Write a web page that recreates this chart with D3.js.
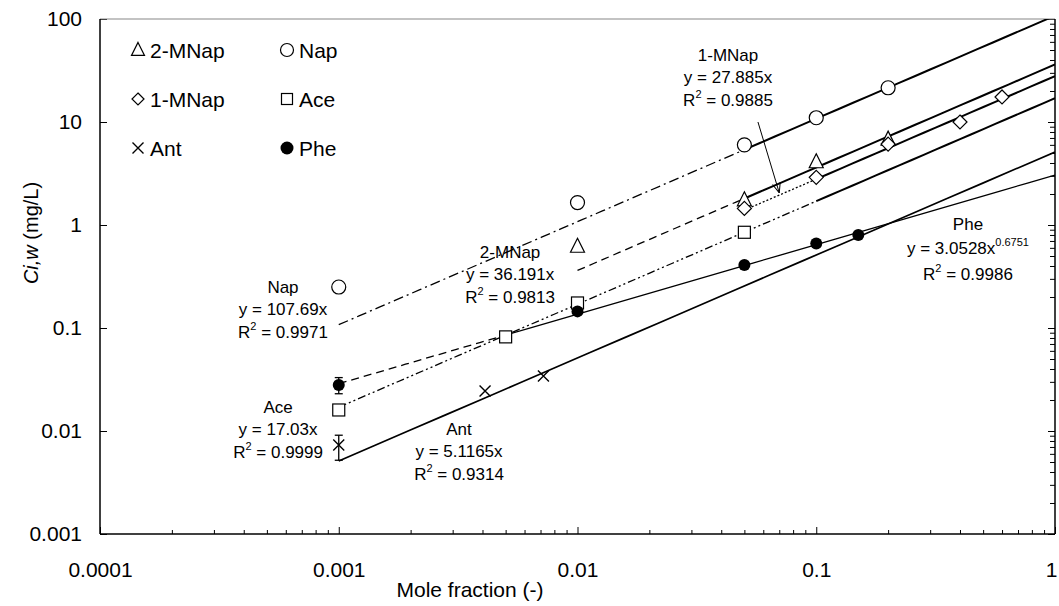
<!DOCTYPE html>
<html><head><meta charset="utf-8">
<script src="https://cdn.jsdelivr.net/npm/d3@7"></script>
<style>
body{margin:0;background:#fff}
text{font-family:"Liberation Sans",Arial,sans-serif;fill:#000}
</style>
</head><body>
<svg id="c" width="1059" height="606"></svg>
<script>
// ---------- data ----------
const xTickVals = [0.0001, 0.001, 0.01, 0.1, 1];
const xTickLabels = ["0.0001", "0.001", "0.01", "0.1", "1"];
const yTickVals = [0.001, 0.01, 0.1, 1, 10, 100];
const yTickLabels = ["0.001", "0.01", "0.1", "1", "10", "100"];

const napX = [0.001, 0.01, 0.05, 0.1, 0.2];
const napY = [0.25, 1.65, 6.0, 11.0, 21.5];
const mnap2X = [0.01, 0.05, 0.1, 0.2];
const mnap2Y = [0.62, 1.75, 4.1, 6.8];
const mnap1X = [0.05, 0.1, 0.2, 0.4, 0.6];
const mnap1Y = [1.45, 2.9, 6.1, 10.0, 17.5];
const aceX = [0.001, 0.005, 0.01, 0.05];
const aceY = [0.016, 0.082, 0.175, 0.85];
const antX = [0.001, 0.0041, 0.0072];
const antY = [0.0073, 0.0244, 0.0342];
const pheX = [0.001, 0.01, 0.05, 0.1, 0.15];
const pheY = [0.028, 0.145, 0.41, 0.66, 0.80];
const pheErrX = [0.001], pheErrLo = [0.023], pheErrHi = [0.033];
const antErrX = [0.001], antErrLo = [0.0052], antErrHi = [0.0091];

// trendlines y = a * x^b
const fitNames = ["Nap", "2-MNap", "1-MNap", "Ace", "Ant", "Phe"];
const fitCoef = [107.69, 36.191, 27.885, 17.03, 5.1165, 3.0528];
const fitCoefText = ["107.69", "36.191", "27.885", "17.03", "5.1165", "3.0528"];
const fitExp = [1, 1, 1, 1, 1, 0.6751];
const fitR2 = ["0.9971", "0.9813", "0.9885", "0.9999", "0.9314", "0.9986"];
const fitStart = [0.001, 0.01, 0.05, 0.001, 0.001, 0.001];
const fitSplit = [0.05, 0.05, 0.1, 0.1, 0.001, 0.005];
const fitEnd = [1, 1, 1, 1, 1, 1];
// label anchors (data coords of first label line)
const labelX = [0.000584, 0.00522, 0.0427, 0.000557, 0.00319, 0.432];
const labelY = [0.25, 0.547, 44.7, 0.0171, 0.0105, 1.02];
// arrow for 1-MNap label
const arrowFrom = [0.057, 10], arrowTo = [0.07, 2.05];

const legendNames = ["2-MNap", "Nap", "1-MNap", "Ace", "Ant", "Phe"];

// ---------- layout ----------
const L = 100, R = 1055, T = 19, B = 534;
const x = d3.scaleLog().domain([1e-4, 1]).range([L, R]);
const y = d3.scaleLog().domain([1e-3, 100]).range([B, T]);
const svg = d3.select("#c");

svg.append("defs").append("clipPath").attr("id", "clip")
  .append("rect").attr("x", L).attr("y", T).attr("width", R - L).attr("height", B - T);
svg.select("defs").append("marker").attr("id", "arr")
  .attr("viewBox", "0 0 10 10").attr("refX", 10).attr("refY", 5)
  .attr("markerWidth", 10).attr("markerHeight", 10).attr("markerUnits", "userSpaceOnUse")
  .attr("orient", "auto")
  .append("path").attr("d", "M0,1 L10,5 L0,9").attr("fill", "none").attr("stroke", "#000").attr("stroke-width", 1);

// minor ticks
function minors(vals) {
  const out = [];
  for (let i = 0; i < vals.length - 1; i++) for (let k = 2; k <= 9; k++) out.push(vals[i] * k);
  return out;
}
const xMinor = minors(xTickVals), yMinor = minors(yTickVals);

// bottom axis
const gB = svg.append("g").attr("transform", `translate(0,${B})`);
gB.append("g").call(d3.axisBottom(x).tickValues(xMinor).tickSize(-4).tickFormat(""));
gB.append("g").call(d3.axisBottom(x).tickValues(xTickVals).tickSize(-7).tickPadding(28)
  .tickFormat((d, i) => xTickLabels[i]));
gB.selectAll(".domain").remove();
gB.selectAll("text").attr("font-size", 21).attr("font-family", "Liberation Sans, Arial, sans-serif");
gB.selectAll("text").filter(d => d === 1).attr("dx", -4);
gB.selectAll("line").attr("stroke", "#000");

// left axis
const gL = svg.append("g").attr("transform", `translate(${L},0)`);
gL.call(d3.axisLeft(y).tickValues(yTickVals).tickSize(-7).tickPadding(18)
  .tickFormat((d, i) => yTickLabels[i]));
gL.selectAll(".domain").remove();
gL.selectAll("text").attr("font-size", 21).attr("font-family", "Liberation Sans, Arial, sans-serif");

// right axis
const gR = svg.append("g").attr("transform", `translate(${R},0)`);
gR.append("g").call(d3.axisRight(y).tickValues(yMinor).tickSize(-5).tickFormat(""));
gR.append("g").call(d3.axisRight(y).tickValues(yTickVals).tickSize(-7).tickFormat(""));
gR.selectAll(".domain").remove();

// frame
svg.append("line").attr("x1", L).attr("x2", R).attr("y1", T).attr("y2", T).attr("stroke", "#888").attr("stroke-width", 1.2);
svg.append("line").attr("x1", L).attr("x2", L).attr("y1", T).attr("y2", B).attr("stroke", "#000").attr("stroke-width", 1.5);
svg.append("line").attr("x1", R).attr("x2", R).attr("y1", T).attr("y2", B).attr("stroke", "#000").attr("stroke-width", 1.5);
svg.append("line").attr("x1", L).attr("x2", R).attr("y1", B).attr("y2", B).attr("stroke", "#000").attr("stroke-width", 1.5);

// axis titles
svg.append("text").attr("x", 470).attr("y", 597).attr("text-anchor", "middle")
  .attr("font-size", 21).text("Mole fraction (-)");
const yt = svg.append("text").attr("transform", "translate(38,233) rotate(-90)")
  .attr("text-anchor", "middle").attr("font-size", 20);
yt.append("tspan").attr("font-style", "italic").text("Ci,w");
yt.append("tspan").text(" (mg/L)");

// ---------- trendlines ----------
const plot = svg.append("g").attr("clip-path", "url(#clip)");
const dashStyles = ["10,4,2,4", "8,5", "2,2", "8,3,2,3,2,3", null, "8,5"];
const solidWidth = [2, 2, 2, 2, 1.7, 1.3];
const line = d3.line().x(d => x(d[0])).y(d => y(d[1]));
function fitPts(i, a, b) {
  const la = Math.log10(a), lb = Math.log10(b);
  return d3.range(0, 21).map(k => {
    const xv = Math.pow(10, la + (lb - la) * k / 20);
    return [xv, fitCoef[i] * Math.pow(xv, fitExp[i])];
  });
}
fitNames.forEach((n, i) => {
  if (fitSplit[i] > fitStart[i]) {
    plot.append("path").attr("d", line(fitPts(i, fitStart[i], fitSplit[i])))
      .attr("fill", "none").attr("stroke", "#000").attr("stroke-width", 1.3)
      .attr("stroke-dasharray", dashStyles[i]);
  }
  plot.append("path").attr("d", line(fitPts(i, fitSplit[i], fitEnd[i])))
    .attr("fill", "none").attr("stroke", "#000").attr("stroke-width", solidWidth[i]);
});

// error bars
function errBars(xs, lo, hi) {
  xs.forEach((xv, i) => {
    const g = plot.append("g").attr("stroke", "#000").attr("stroke-width", 1.3);
    g.append("line").attr("x1", x(xv)).attr("x2", x(xv)).attr("y1", y(lo[i])).attr("y2", y(hi[i]));
    [lo[i], hi[i]].forEach(v => g.append("line").attr("x1", x(xv) - 4).attr("x2", x(xv) + 4).attr("y1", y(v)).attr("y2", y(v)));
  });
}
errBars(pheErrX, pheErrLo, pheErrHi);
errBars(antErrX, antErrLo, antErrHi);

// ---------- markers ----------
const shapes = {
  circle: (g, s) => g.append("circle").attr("r", s / 2).attr("fill", "#fff").attr("stroke", "#000").attr("stroke-width", 1.2),
  dot: (g, s) => g.append("circle").attr("r", s / 2).attr("fill", "#000"),
  tri: (g, s) => g.append("path").attr("d", `M0,${-s * 0.58} L${s / 2},${s * 0.42} L${-s / 2},${s * 0.42}Z`).attr("fill", "#fff").attr("stroke", "#000").attr("stroke-width", 1.2),
  dia: (g, s) => g.append("path").attr("d", `M0,${-s / 2} L${s / 2},0 L0,${s / 2} L${-s / 2},0Z`).attr("fill", "#fff").attr("stroke", "#000").attr("stroke-width", 1.2),
  sq: (g, s) => g.append("rect").attr("x", -s / 2).attr("y", -s / 2).attr("width", s).attr("height", s).attr("fill", "#fff").attr("stroke", "#000").attr("stroke-width", 1.2),
  cross: (g, s) => g.append("path").attr("d", `M${-s / 2},${-s / 2}L${s / 2},${s / 2}M${s / 2},${-s / 2}L${-s / 2},${s / 2}`).attr("stroke", "#000").attr("stroke-width", 1.4)
};
function drawSeries(xs, ys, shape, size) {
  xs.forEach((xv, i) => {
    const g = plot.append("g").attr("transform", `translate(${x(xv)},${y(ys[i])})`);
    shapes[shape](g, size);
  });
}
drawSeries(napX, napY, "circle", 14);
drawSeries(mnap2X, mnap2Y, "tri", 14);
drawSeries(mnap1X, mnap1Y, "dia", 14);
drawSeries(aceX, aceY, "sq", 12);
drawSeries(antX, antY, "cross", 11);
drawSeries(pheX, pheY, "dot", 12);

// ---------- fit labels ----------
function label(i, spacing) {
  const cx = x(labelX[i]), cy = y(labelY[i]);
  const fs = 17;
  svg.append("text").attr("x", cx).attr("y", cy).attr("dy", "0.35em").attr("text-anchor", "middle")
    .attr("font-size", fs).text(fitNames[i]);
  const t2 = svg.append("text").attr("x", cx).attr("y", cy + spacing).attr("dy", "0.35em")
    .attr("text-anchor", "middle").attr("font-size", fs);
  if (fitExp[i] === 1) {
    t2.text(`y = ${fitCoefText[i]}x`);
  } else {
    t2.append("tspan").text(`y = ${fitCoefText[i]}x`);
    t2.append("tspan").attr("font-size", 11).attr("dy", "-8").text(String(fitExp[i]));
  }
  const t3 = svg.append("text").attr("x", cx).attr("y", cy + 2 * spacing + (fitExp[i] === 1 ? 0 : 2)).attr("dy", "0.35em")
    .attr("text-anchor", "middle").attr("font-size", fs);
  t3.append("tspan").text("R");
  t3.append("tspan").attr("font-size", 11).attr("dy", "-8").text("2");
  t3.append("tspan").attr("dy", "8").text(` = ${fitR2[i]}`);
}
fitNames.forEach((n, i) => label(i, i === 5 ? 24 : 22.5));

// arrow
svg.append("line").attr("x1", x(arrowFrom[0])).attr("y1", y(arrowFrom[1]))
  .attr("x2", x(arrowTo[0])).attr("y2", y(arrowTo[1]))
  .attr("stroke", "#000").attr("stroke-width", 1).attr("marker-end", "url(#arr)");

// ---------- legend ----------
const legShapes = ["tri", "circle", "dia", "sq", "cross", "dot"];
const legSizes = [13, 13, 12, 11, 11, 13];
legendNames.forEach((n, i) => {
  const col = i % 2, row = Math.floor(i / 2);
  const sx = col === 0 ? 138 : 287, sy = 50 + row * 49;
  const g = svg.append("g").attr("transform", `translate(${sx},${sy})`);
  shapes[legShapes[i]](g, legSizes[i]);
  svg.append("text").attr("x", sx + 12).attr("y", sy).attr("dy", "0.36em")
    .attr("font-size", 21).text(n);
});
</script>
</body></html>
